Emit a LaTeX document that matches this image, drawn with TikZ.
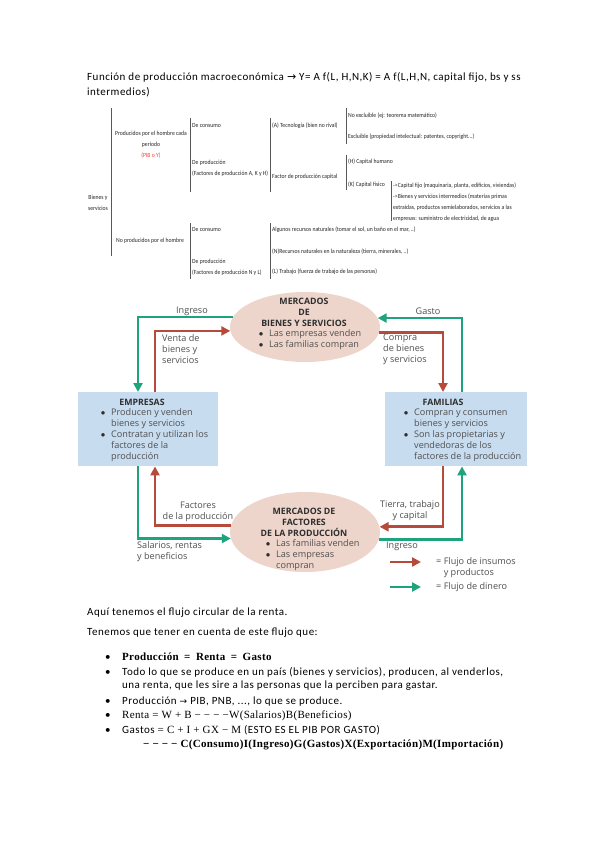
\documentclass[tikz,border=0pt]{standalone}
\usepackage{fontspec}
\setmainfont{Carlito}[LetterSpace=4.5]
\newfontfamily\symf{DejaVu Sans}
\newfontfamily\diagf{Open Sans}
\newfontfamily\serf{Liberation Serif}[LetterSpace=3]
\newfontfamily\treef[FakeStretch=0.9]{Carlito}
\usetikzlibrary{arrows.meta,shapes.geometric}
\definecolor{tgreen}{HTML}{1FA37C}
\definecolor{tred}{HTML}{B64A3B}
\definecolor{ellfill}{HTML}{EDD5CB}
\definecolor{boxfill}{HTML}{C8DCF0}
\definecolor{dtext}{HTML}{4F4F4F}
\definecolor{dtitle}{HTML}{2E2E2E}
\definecolor{pibred}{HTML}{FF3B3B}
\newcommand\dbul{\makebox[10pt][l]{\raisebox{1pt}{\symf\fontsize{4.6}{5}\selectfont\color{dtitle}●}}}
\newcommand\dind{\hspace*{10pt}}
\begin{document}
\begin{tikzpicture}[x=1pt,y=-1pt,
  tree/.style={font=\treef\fontsize{6.3}{11}\selectfont, text=black!85, inner sep=0pt, anchor=west, align=left},
  treebar/.style={draw=black!65, line width=0.7pt},
  dlab/.style={font=\diagf\fontsize{9.1}{11}\selectfont, text=dtext, inner sep=0pt, align=left},
  dtit/.style={font=\diagf\bfseries\fontsize{8.8}{11}\selectfont, text=dtitle, inner sep=0pt, align=center},
  ell/.style={ellipse, fill=ellfill, minimum width=150pt, minimum height=70pt, inner sep=0pt},
  bluebox/.style={rectangle, fill=boxfill, inner sep=0pt, anchor=north west},
  flowg/.style={draw=tgreen, line width=2.6pt, -{Triangle[length=9pt,width=9pt]}},
  flowr/.style={draw=tred, line width=2.6pt, -{Triangle[length=9pt,width=9pt]}},
  body/.style={font=\fontsize{11}{14}\selectfont, inner sep=0pt, anchor=base west},
]
\fill[white] (0,0) rectangle (599,848);
\useasboundingbox (0,0) rectangle (599,848);

% ---------- title ----------
\node[body] (t1) at (87,81) {Función de producción macroeconómica {\symf →} Y= A f(L, H,N,K) = A f(L,H,N, capital fijo, bs y ss};
\node[body] (t2) at (87,96) {intermedios)};

% ---------- tree ----------
\node[tree, anchor=center, align=center] (bys) at (98,202.5) {Bienes y\\servicios};
\draw[treebar] (111,108) -- (111,256);
\node[tree, anchor=center, align=center] (prod) at (151,145) {Producidos por el hombre cada\\periodo\\\textcolor{pibred}{(PIB o Y)}};
\node[tree] (noprod) at (116,241) {No producidos por el hombre};
\draw[treebar] (190,118) -- (190,192);
\draw[treebar] (190,223) -- (190,279);
\node[tree] (c1) at (192,126) {De consumo};
\node[tree] (p1) at (192,168.5) {De producción\\(Factores de producción A, K y H)};
\node[tree] (c2) at (192,230) {De consumo};
\node[tree] (p2) at (192,267) {De producción\\(Factores de producción N y L)};
\draw[treebar] (270,118) -- (270,192);
\draw[treebar] (270,223) -- (270,279);
\node[tree] (tec) at (272,126) {(A) Tecnología (bien no rival)};
\node[tree] (fpc) at (272,177) {Factor de producción capital};
\node[tree] (alg) at (272,230) {Algunos recursos naturales (tomar el sol, un baño en el mar, ..)};
\node[tree] (rn) at (272,252) {(N)Recursos naturales en la naturaleza (tierra, minerales, ..)};
\node[tree] (trab) at (272,272) {(L) Trabajo (fuerza de trabajo de las personas)};
\draw[treebar] (346,108) -- (346,144);
\draw[treebar] (346,155) -- (346,190);
\node[tree] (nex) at (348,116) {No excluible (ej: teorema matemático)};
\node[tree] (exc) at (348,137) {Excluible (propiedad intelectual: patentes, copyright...)};
\node[tree] (ch) at (348,162) {(H) Capital humano};
\node[tree] (cf) at (348,185) {(K) Capital físico};
\draw[treebar] (391,181) -- (391,221);
\node[tree] (fijo) at (393,186) {->Capital fijo (maquinaria, planta, edificios, viviendas)};
\node[tree] (inter) at (393,208) {->Bienes y servicios intermedios (materias primas\\extraídas, productos semielaborados, servicios a las\\empresas: suministro de electricidad, de agua};

% ---------- circular flow ----------
\node[ell] (mbs) at (305,327) {};
\node[ell, minimum height=80pt] (mfp) at (305,532) {};
\node[bluebox, minimum width=140pt, minimum height=74pt] (emp) at (78,392) {};
\node[bluebox, minimum width=142pt, minimum height=74pt] (fam) at (385,392) {};

\node[dtit] (mbsT) at (304,312.5) {MERCADOS\\DE\\BIENES Y SERVICIOS};
\node[dlab, anchor=west] (mbsL) at (259,339.5) {\dbul Las empresas venden\\\dbul Las familias compran};
\node[dtit] (mfpT) at (304,522) {MERCADOS DE\\FACTORES\\DE LA PRODUCCIÓN};
\node[dlab, anchor=west] (mfpL) at (266,555) {\dbul Las familias venden\\\dbul Las empresas\\\dind compran};

\node[dtit] (empT) at (142,402) {EMPRESAS};
\node[dlab, anchor=west] (empL) at (101,435) {\dbul Producen y venden\\\dind bienes y servicios\\\dbul Contratan y utilizan los\\\dind factores de la\\\dind producción};
\node[dtit] (famT) at (443,402) {FAMILIAS};
\node[dlab, anchor=west] (famL) at (404,435) {\dbul Compran y consumen\\\dind bienes y servicios\\\dbul Son las propietarias y\\\dind vendedoras de los\\\dind factores de la producción};

\coordinate (gxL) at (138,0);
\coordinate (rxL) at (155,0);
\coordinate (rxR) at (443,0);
\coordinate (gxR) at (462,0);

\draw[flowg] (mbs.172.9) -| (emp.north -| gxL);
\draw[flowr] (emp.north -| rxL) |- (mbs.183.1);
\draw[flowg] (fam.north -| gxR) |- (mbs.7.1);
\draw[flowr] (mbs.356.9) -| (fam.north -| rxR);
\draw[flowr] (mfp.175.4) -| (emp.south -| rxL);
\draw[flowg] (emp.south -| gxL) |- (mfp.185.4);
\draw[flowr] (fam.south -| rxR) |- (mfp.4.6);
\draw[flowg] (mfp.354.6) -| (fam.south -| gxR);

\node[dlab] (ingT) at (192,311) {Ingreso};
\node[dlab] (gasT) at (428,311) {Gasto};
\node[dlab, anchor=west] (venta) at (162,349) {Venta de\\bienes y\\servicios};
\node[dlab, anchor=west] (compra) at (383,349) {Compra\\de bienes\\y servicios};
\node[dlab, align=center] (fact) at (198,512) {Factores\\de la producción};
\node[dlab, align=center] (tierra) at (410,511) {Tierra, trabajo\\y capital};
\node[dlab, anchor=west] (sal) at (137,551.5) {Salarios, rentas\\y beneficios};
\node[dlab, anchor=west] (ingB) at (386,546) {Ingreso};

% legend
\coordinate (lr1) at (390,562);
\coordinate (lr2) at (421,562);
\draw[flowr] (lr1) -- (lr2);
\node[dlab, anchor=west] (legr) at (436,568) {= Flujo de insumos\\\phantom{= }y productos};
\coordinate (lg1) at (390,587);
\coordinate (lg2) at (421,587);
\draw[flowg] (lg1) -- (lg2);
\node[dlab, anchor=west] (legg) at (436,587) {= Flujo de dinero};

% ---------- body text ----------
\node[body] (a1) at (87,615) {Aquí tenemos el flujo circular de la renta.};
\node[body] (a2) at (87,635) {Tenemos que tener en cuenta de este flujo que:};
\node[body] (bu1) at (105,660) {•};
\node[body] (l1) at (122,660) {{\serf\bfseries Producción\enspace=\enspace Renta\enspace=\enspace Gasto}};
\node[body] (bu2) at (105,675) {•};
\node[body] (l2) at (122,675) {Todo lo que se produce en un país (bienes y servicios), producen, al venderlos,};
\node[body] (l3) at (122,688) {una renta, que les sire a las personas que la perciben para gastar.};
\node[body] (bu3) at (105,704) {•};
\node[body] (l4) at (122,704) {Producción {\symf\fontsize{9}{11}\selectfont →} PIB, PNB, ..., lo que se produce.};
\node[body] (bu4) at (105,718) {•};
\node[body] (l5) at (122,718) {{\serf Renta = W + B − − − −W(Salarios)B(Beneficios)}};
\node[body] (bu5) at (105,733) {•};
\node[body] (l6) at (122,733) {Gastos {\serf = C + I + GX − M} (ESTO ES EL PIB POR GASTO)};
\node[body] (l7) at (143,747) {{\serf\bfseries − − − − C(Consumo)I(Ingreso)G(Gastos)X(Exportación)M(Importación)}};
\end{tikzpicture}
\end{document}
